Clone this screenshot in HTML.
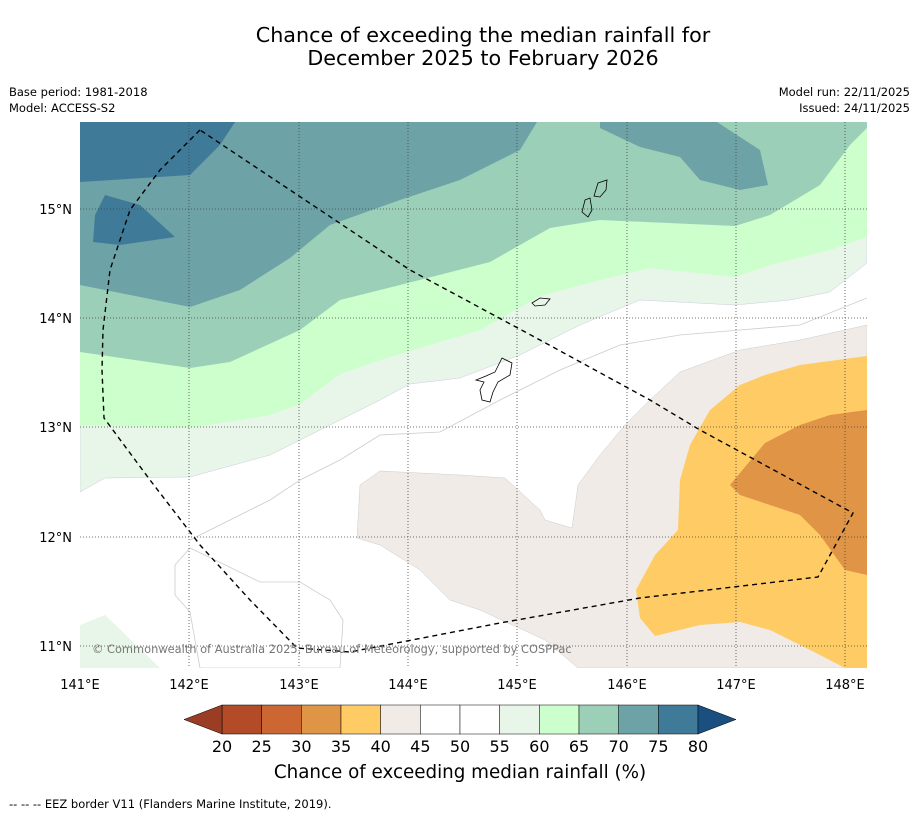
<!DOCTYPE html>
<html><head><meta charset="utf-8"><style>
body{margin:0;background:#fff;width:919px;height:816px;overflow:hidden;font-family:"DejaVu Sans","Liberation Sans",sans-serif}
</style></head><body>
<svg width="919" height="816" xmlns="http://www.w3.org/2000/svg" font-family="DejaVu Sans, Liberation Sans, sans-serif">
<text x="483" y="42" text-anchor="middle" font-size="20.7">Chance of exceeding the median rainfall for</text>
<text x="483" y="65" text-anchor="middle" font-size="20.7">December 2025 to February 2026</text>
<text x="9" y="96" font-size="11.5">Base period: 1981-2018</text>
<text x="9" y="112" font-size="11.5">Model: ACCESS-S2</text>
<text x="910" y="96" font-size="11.5" text-anchor="end">Model run: 22/11/2025</text>
<text x="910" y="112" font-size="11.5" text-anchor="end">Issued: 24/11/2025</text>
<defs><clipPath id="mc"><rect x="80" y="122" width="787" height="546"/></clipPath></defs>
<g clip-path="url(#mc)">
<rect x="80" y="122" width="787" height="546" fill="#fff"/>
<polygon fill="#e8f5e9" stroke="#ccd" stroke-width="0.5" points="80,122 867,122 867,263 830,292 790,300 735,305 640,300 580,325 520,355 460,378 410,384 380,400 300,440 270,455 190,477 105,478 80,492"/>
<polygon fill="#e8f5e9" points="80,625 105,615 160,668 80,668"/>
<polygon fill="#ccffcc" points="80,122 867,122 867,237 830,250 770,265 735,277 650,268 600,280 540,296 480,330 380,360 340,374 300,404 270,415 190,428 80,425"/>
<polygon fill="#9ccfb8" points="80,122 867,122 867,128 850,145 820,185 770,215 735,226 600,220 550,228 490,262 400,285 340,300 300,330 230,362 190,368 80,352"/>
<polygon fill="#6da3a6" points="80,122 537,122 520,150 460,180 400,200 330,225 290,258 240,290 190,307 80,285"/>
<polygon fill="#6da3a6" points="600,122 717,122 760,150 768,185 740,190 700,180 680,157 640,147 600,128"/>
<polygon fill="#407a99" points="80,122 235,122 220,145 190,175 80,182"/>
<polygon fill="#407a99" points="105,195 140,205 175,237 120,245 93,242 95,215"/>
<polyline fill="none" stroke="#ccc" stroke-width="0.8" points="190,540 230,520 270,500 300,480 340,460 380,435 440,432 500,400 560,370 620,345 680,335 740,330 800,325 867,298"/>
<polygon fill="none" stroke="#ccc" stroke-width="0.8" points="175,565 190,548 215,560 260,582 300,582 330,600 343,620 340,668 200,668 190,612 175,595"/>
<polygon fill="#f0ebe6" stroke="#ccc" stroke-width="0.5" points="360,485 380,471 460,475 505,478 540,510 545,520 572,528 578,485 600,455 625,425 650,400 680,372 740,350 800,340 867,325 867,668 578,668 545,640 480,610 450,600 420,570 380,545 357,538"/>
<polygon fill="#fecb65" points="867,356 800,365 765,375 740,385 710,410 690,445 680,480 678,530 655,555 636,590 640,618 655,636 700,625 740,622 770,630 820,655 845,668 867,668"/>
<polygon fill="#e09445" points="867,410 830,415 800,425 765,443 730,485 740,495 770,505 800,515 820,535 845,570 867,575"/>
<g stroke="#444" stroke-width="0.8" stroke-dasharray="1,2">
<line x1="189" y1="122" x2="189" y2="668"/><line x1="299" y1="122" x2="299" y2="668"/><line x1="408" y1="122" x2="408" y2="668"/><line x1="517" y1="122" x2="517" y2="668"/><line x1="627" y1="122" x2="627" y2="668"/><line x1="736" y1="122" x2="736" y2="668"/><line x1="845" y1="122" x2="845" y2="668"/>
<line x1="80" y1="209" x2="867" y2="209"/><line x1="80" y1="318" x2="867" y2="318"/><line x1="80" y1="427" x2="867" y2="427"/><line x1="80" y1="537" x2="867" y2="537"/><line x1="80" y1="646" x2="867" y2="646"/>
</g>
<g fill="none" stroke="#000" stroke-width="0.8">
<polygon points="502,358 512,363 510,375 498,382 493,392 490,402 482,400 480,390 484,382 476,380 486,376 495,372"/>
<polygon points="532,303 540,298 550,299 545,305 535,306"/>
<polygon points="585,200 590,198 592,210 588,217 582,212"/>
<polygon points="598,183 607,180 606,190 600,197 594,196"/>
</g>
<polyline fill="none" stroke="#000" stroke-width="1.4" stroke-dasharray="5,4" points="200,130 160,170 130,210 110,270 103,330 102,370 104,418 150,480 200,545 250,600 297,648 350,652 500,623 640,598 818,577 853,513 700,430 650,400 540,340 410,270 200,130"/>
<text x="92" y="653" font-size="11.4" fill="#777">© Commonwealth of Australia 2025, Bureau of Meteorology, supported by COSPPac</text>
</g>
<g font-size="13">
<text x="72" y="214" text-anchor="end">15°N</text><text x="72" y="323" text-anchor="end">14°N</text><text x="72" y="432" text-anchor="end">13°N</text><text x="72" y="542" text-anchor="end">12°N</text><text x="72" y="651" text-anchor="end">11°N</text>
</g>
<g font-size="13" text-anchor="middle">
<text x="80" y="689">141°E</text><text x="189" y="689">142°E</text><text x="299" y="689">143°E</text><text x="408" y="689">144°E</text><text x="517" y="689">145°E</text><text x="627" y="689">146°E</text><text x="736" y="689">147°E</text><text x="845" y="689">148°E</text>
</g>
<g id="cb"></g>
<text x="460" y="778" text-anchor="middle" font-size="18.3">Chance of exceeding median rainfall (%)</text>
<text x="9" y="808" font-size="11.5">--  --  -- EEZ border V11 (Flanders Marine Institute, 2019).</text>
</svg>
<script>
const levels=[20,25,30,35,40,45,50,55,60,65,70,75,80];
const colors=["#b34a28","#cc6633","#e09445","#fecb65","#f0ebe6","#ffffff","#ffffff","#e8f5e9","#ccffcc","#9ccfb8","#6da3a6","#407a99"];
const ns="http://www.w3.org/2000/svg";
const g=document.getElementById('cb');
const x0=222,x1=698,y0=705,h=29;
const sx=v=>x0+(v-levels[0])/(levels[levels.length-1]-levels[0])*(x1-x0);
function mk(t,a){const e=document.createElementNS(ns,t);for(const k in a)e.setAttribute(k,a[k]);g.appendChild(e);return e;}
for(let i=0;i<colors.length;i++){
 const r=mk('rect',{x:sx(levels[i]),y:y0,width:sx(levels[i+1])-sx(levels[i]),height:h,fill:colors[i],stroke:'#000','stroke-width':0.5});
 
 
}
const lt=mk('polygon',{points:`${x0},${y0} ${x0},${y0+h} 184,${y0+h/2}`,fill:'#9b3d25',stroke:'#000','stroke-width':0.5});


const rt=mk('polygon',{points:`${x1},${y0} ${x1},${y0+h} 736,${y0+h/2}`,fill:'#1a4f80',stroke:'#000','stroke-width':0.5});


levels.forEach(v=>{
 const t=mk('text',{x:sx(v),y:752,'text-anchor':'middle','font-size':16});
 t.textContent=v;
 
 
});
</script>
</body></html>
